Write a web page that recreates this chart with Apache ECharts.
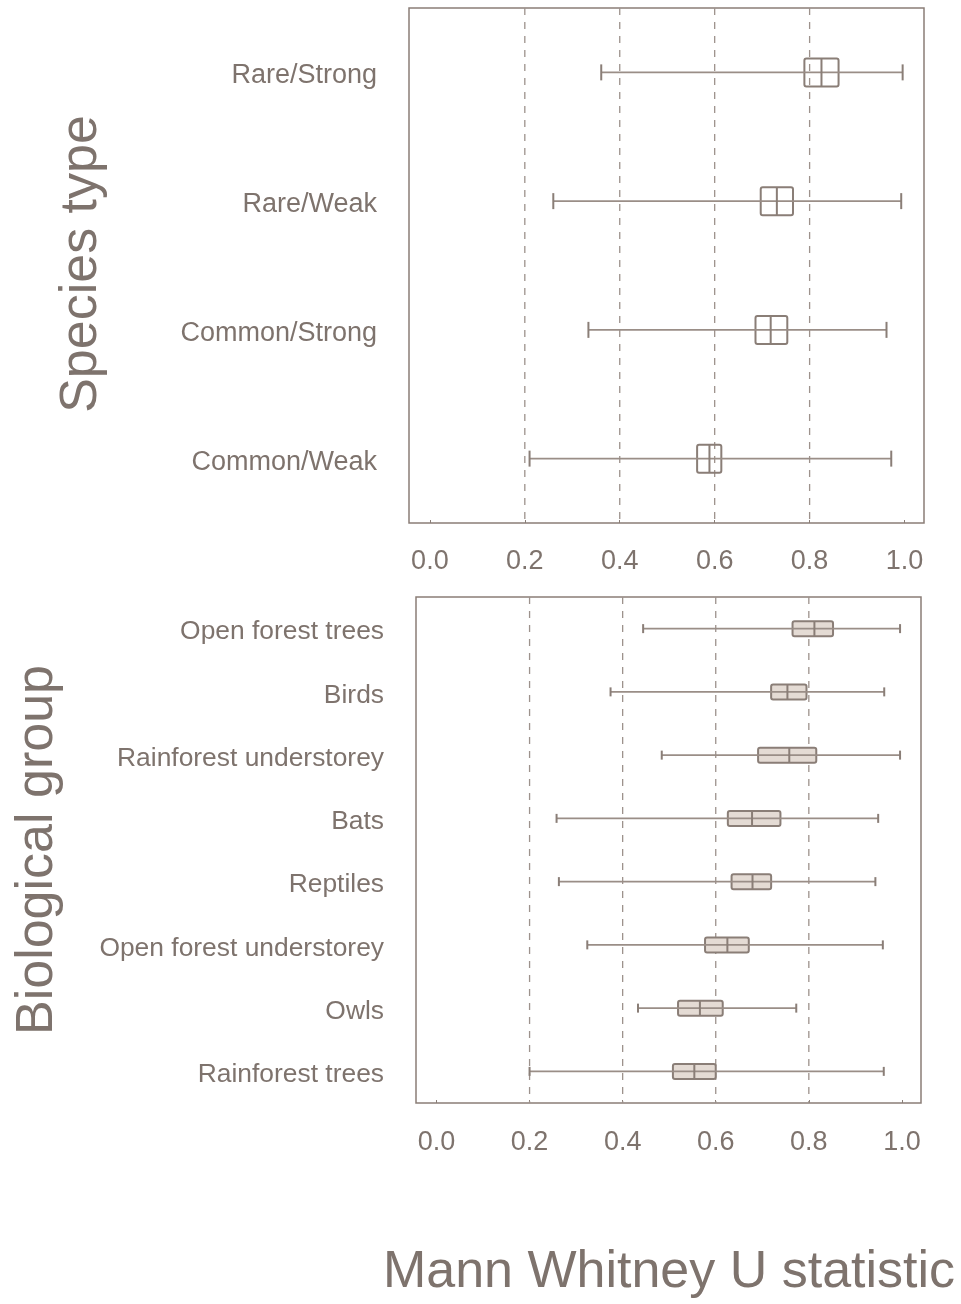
<!DOCTYPE html>
<html>
<head>
<meta charset="utf-8">
<script src="https://cdn.jsdelivr.net/npm/echarts@6/dist/echarts.min.js"></script>
<style>
html,body{margin:0;padding:0;background:#fff;}
#chart{width:961px;height:1304px;}
</style>
</head>
<body>
<div id="chart"></div>
<script>
// ---- Data ----
const topCategories = ['Rare/Strong', 'Rare/Weak', 'Common/Strong', 'Common/Weak'];
const topLow    = [0.361, 0.260, 0.334, 0.210];
const topQ1     = [0.789, 0.697, 0.686, 0.563];
const topMedian = [0.825, 0.731, 0.718, 0.589];
const topQ3     = [0.861, 0.765, 0.753, 0.614];
const topHigh   = [0.996, 0.993, 0.962, 0.972];

const bottomCategories = ['Open forest trees', 'Birds', 'Rainforest understorey', 'Bats',
  'Reptiles', 'Open forest understorey', 'Owls', 'Rainforest trees'];
const bottomLow    = [0.444, 0.374, 0.484, 0.258, 0.263, 0.324, 0.433, 0.200];
const bottomQ1     = [0.765, 0.719, 0.691, 0.626, 0.634, 0.577, 0.519, 0.508];
const bottomMedian = [0.812, 0.754, 0.758, 0.678, 0.679, 0.625, 0.566, 0.554];
const bottomQ3     = [0.852, 0.795, 0.816, 0.739, 0.719, 0.671, 0.615, 0.600];
const bottomHigh   = [0.996, 0.962, 0.996, 0.949, 0.943, 0.959, 0.773, 0.961];

const tickValues = [0.0, 0.2, 0.4, 0.6, 0.8, 1.0];
const gridLineValues = [0.2, 0.4, 0.6, 0.8];

const titleTop = 'Species type';
const titleBottom = 'Biological group';
const titleX = 'Mann Whitney U statistic';

// ---- Styles ----
const FONT = '"Liberation Sans", Arial, sans-serif';
const TEXT = '#7e736d';
const LINE = '#8a7e77';
const WHISK = '#9a8e87';

function buildRows(low, q1, med, q3, high) {
  return low.map((v, i) => [i, low[i], q1[i], med[i], q3[i], high[i]]);
}

function boxRender(boxH, capH, fill) {
  return function (params, api) {
    const c = api.value(0);
    const pLow = api.coord([api.value(1), c]);
    const pQ1 = api.coord([api.value(2), c]);
    const pMed = api.coord([api.value(3), c]);
    const pQ3 = api.coord([api.value(4), c]);
    const pHigh = api.coord([api.value(5), c]);
    const y = pLow[1];
    return {
      type: 'group',
      children: [
        { type: 'rect', shape: { x: pQ1[0], y: y - boxH / 2, width: pQ3[0] - pQ1[0], height: boxH, r: 2 },
          style: { fill: fill, stroke: LINE, lineWidth: 2 } },
        { type: 'line', shape: { x1: pLow[0], y1: y, x2: pHigh[0], y2: y },
          style: { stroke: WHISK, lineWidth: 1.6 } },
        { type: 'line', shape: { x1: pLow[0], y1: y - capH / 2, x2: pLow[0], y2: y + capH / 2 },
          style: { stroke: LINE, lineWidth: 2 } },
        { type: 'line', shape: { x1: pHigh[0], y1: y - capH / 2, x2: pHigh[0], y2: y + capH / 2 },
          style: { stroke: LINE, lineWidth: 2 } },
        { type: 'line', shape: { x1: pMed[0], y1: y - boxH / 2, x2: pMed[0], y2: y + boxH / 2 },
          style: { stroke: LINE, lineWidth: 2 } }
      ]
    };
  };
}

function gridLineRender(params, api) {
  const cs = params.coordSys;
  const x = api.coord([api.value(0), 0])[0];
  return {
    type: 'line',
    shape: { x1: x, y1: cs.y, x2: x, y2: cs.y + cs.height },
    style: { stroke: '#9d928c', lineWidth: 1.3, lineDash: [7, 7] }
  };
}

function xAxisDef(gridIndex, margin) {
  return {
    type: 'value', gridIndex: gridIndex, min: -0.044, max: 1.041,
    axisLine: { show: false },
    splitLine: { show: false },
    axisTick: { show: true, inside: true, length: 3, customValues: tickValues, lineStyle: { color: LINE } },
    axisLabel: { customValues: tickValues, formatter: v => v.toFixed(1), color: TEXT,
      fontSize: 27, fontFamily: FONT, margin: margin }
  };
}

function yAxisDef(gridIndex, cats, size) {
  return {
    type: 'category', gridIndex: gridIndex, data: cats, inverse: true, boundaryGap: true,
    axisLine: { show: false }, axisTick: { show: false }, splitLine: { show: false },
    axisLabel: {
      color: TEXT, fontSize: size, fontFamily: FONT, margin: 32,
      formatter: v => '{a|' + v + '}',
      rich: { a: { color: TEXT, fontSize: size, fontFamily: FONT, padding: [7, 0, 0, 0] } }
    }
  };
}

const chart = echarts.init(document.getElementById('chart'), null, { renderer: 'canvas' });
chart.setOption({
  backgroundColor: '#ffffff',
  animation: false,
  grid: [
    { left: 409, top: 8, width: 515, height: 515, show: true, borderColor: LINE, borderWidth: 1.5, backgroundColor: 'transparent' },
    { left: 416, top: 597, width: 505, height: 506, show: true, borderColor: LINE, borderWidth: 1.5, backgroundColor: 'transparent' }
  ],
  xAxis: [xAxisDef(0, 25), xAxisDef(1, 26)],
  yAxis: [yAxisDef(0, topCategories, 27), yAxisDef(1, bottomCategories, 26.4)],
  graphic: [
    { type: 'text', x: 82, y: 264, rotation: Math.PI / 2,
      style: { text: titleTop, fontSize: 52, fontFamily: FONT, fill: TEXT, align: 'center', verticalAlign: 'middle' } },
    { type: 'text', x: 38, y: 850, rotation: Math.PI / 2,
      style: { text: titleBottom, fontSize: 52, fontFamily: FONT, fill: TEXT, align: 'center', verticalAlign: 'middle' } },
    { type: 'text', x: 669, y: 1273,
      style: { text: titleX, fontSize: 52, fontFamily: FONT, fill: TEXT, align: 'center', verticalAlign: 'middle' } }
  ],
  series: [
    { type: 'custom', xAxisIndex: 0, yAxisIndex: 0, renderItem: gridLineRender, silent: true,
      data: gridLineValues.map(v => [v, 0]), encode: { x: 0, y: 1 } },
    { type: 'custom', xAxisIndex: 1, yAxisIndex: 1, renderItem: gridLineRender, silent: true,
      data: gridLineValues.map(v => [v, 0]), encode: { x: 0, y: 1 } },
    { type: 'custom', name: 'Species type', xAxisIndex: 0, yAxisIndex: 0,
      renderItem: boxRender(28, 16, 'rgba(255,255,255,0)'),
      data: buildRows(topLow, topQ1, topMedian, topQ3, topHigh),
      encode: { y: 0, x: [1, 2, 3, 4, 5] } },
    { type: 'custom', name: 'Biological group', xAxisIndex: 1, yAxisIndex: 1,
      renderItem: boxRender(15, 9, '#e4dbd4'),
      data: buildRows(bottomLow, bottomQ1, bottomMedian, bottomQ3, bottomHigh),
      encode: { y: 0, x: [1, 2, 3, 4, 5] } }
  ]
});
</script>
</body>
</html>
